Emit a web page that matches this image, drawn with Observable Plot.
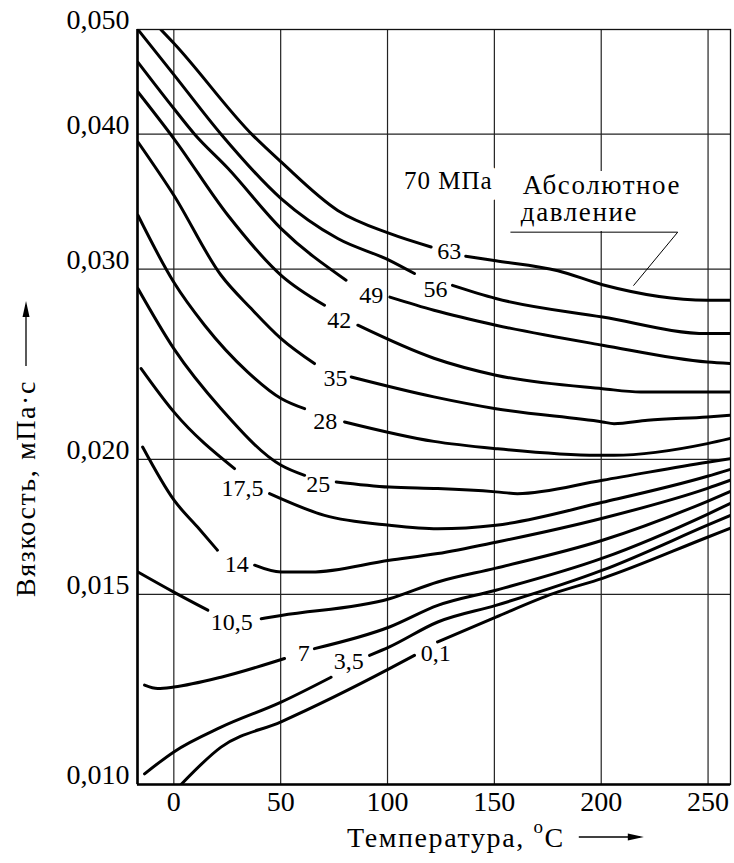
<!DOCTYPE html>
<html><head><meta charset="utf-8">
<script src="https://cdn.jsdelivr.net/npm/d3@7"></script>
<script src="https://cdn.jsdelivr.net/npm/@observablehq/plot@0.6"></script>
<style>
body{margin:0;background:#fff}
</style>
</head><body><div id="chart"></div>
<script>
// ---- data (temperature °C, viscosity mPa·s); null = break for label ----
const t63 = [-6.1, 0, 37.0, 50.2, 76.7, 100.9, 120.4, null, 136.6, 150.7, 179.7, 200.6, 249.7, 260.5];
const v63 = [0.0500, 0.04856, 0.0399, 0.03770, 0.0340, 0.03237, 0.03145, null, 0.03084, 0.03054, 0.0299, 0.02902, 0.02808, 0.02808];
const t56 = [-16.8, 0, 22.1, 50.2, 76.7, 100.9, 112.6, null, 130.4, 150.7, 200.6, 249.7, 260.5];
const v56 = [0.0500, 0.04542, 0.0400, 0.03487, 0.03202, 0.03057, 0.02972, null, 0.02898, 0.02818, 0.02709, 0.02615, 0.02615];
const t49 = [-16.8, 0, 9.7, 25.3, 50.2, 80.6, null, 101.1, 121.7, 150.7, 200.6, 249.7, 260.5];
const v49 = [0.04663, 0.04225, 0.0400, 0.0372, 0.03271, 0.02930, null, 0.02826, 0.02748, 0.02662, 0.02551, 0.02461, 0.02453];
const t42 = [-16.8, 0, 25.3, 50.2, 70.5, null, 86.1, 121.7, 150.7, 200.6, 218.5, 260.5];
const v42 = [0.04377, 0.03963, 0.03365, 0.02961, 0.02778, null, 0.02662, 0.02481, 0.02393, 0.02325, 0.02309, 0.02309];
const t35 = [-16.8, 0, 22.1, 36.2, 50.2, 65.8, null, 83.0, 121.7, 150.7, 200.6, 206, 221.7, 249.7, 260.5];
const v35 = [0.03934, 0.03512, 0.02961, 0.02758, 0.02587, 0.02453, null, 0.02384, 0.02285, 0.02228, 0.02166, 0.02158, 0.02174, 0.02189, 0.02197];
const t28 = [-16.8, 0, 14.4, 34.6, 50.2, 61.2, null, 79.9, 121.7, 150.7, 198.3, 206, 249.7, 260.5];
const v28 = [0.03365, 0.02917, 0.02662, 0.02409, 0.02277, 0.02228, null, 0.02166, 0.02078, 0.02046, 0.02017, 0.02017, 0.02068, 0.02091];
const t25 = [-16.8, 0, 22.1, 50.2, 61.2, null, 76.0, 100.9, 123.5, 150.7, 160.8, 200.6, 249.7, 260.5];
const v25 = [0.02878, 0.02532, 0.02228, 0.01975, 0.01933, null, 0.01906, 0.01885, 0.01879, 0.01866, 0.01859, 0.01913, 0.01988, 0.02003];
const t17 = [-15.3, 0, 28.4, null, 44.8, 70.5, 100.9, 123.5, 150.7, 200.6, 249.7, 260.5];
const v17 = [0.02427, 0.02213, 0.01961, null, 0.01859, 0.01775, 0.01738, 0.01725, 0.01738, 0.01825, 0.01929, 0.01958];
const t14 = [-14.6, 0.1, 11.1, 20.4, null, 37.8, 50.2, 64.2, 100.9, 123.5, 150.7, 200.6, 249.7, 260.5];
const v14 = [0.02053, 0.01833, 0.01731, 0.01648, null, 0.01596, 0.01573, 0.01573, 0.01613, 0.01636, 0.01676, 0.01764, 0.01880, 0.01913];
const t10 = [-16.8, 0, 15.9, null, 40.9, 50.2, 100.9, 123.5, 150.7, 200.6, 249.7, 260.5];
const v10 = [0.01573, 0.01507, 0.01450, null, 0.01424, 0.01434, 0.01486, 0.01540, 0.01586, 0.01683, 0.01829, 0.01868];
const t7 = [-13.7, -7.5, 0, 22.1, 51.8, null, 65.8, 100.9, 123.5, 150.7, 200.6, 249.7, 260.5];
const v7 = [0.01236, 0.01227, 0.01231, 0.01257, 0.01308, null, 0.01336, 0.01399, 0.01465, 0.01513, 0.01620, 0.01779, 0.01821];
const t3 = [-13.7, 0, 22.1, 50.2, 73.6, null, 91.6, 100.9, 123.5, 150.7, 200.6, 249.7, 260.5];
const v3 = [0.01023, 0.01072, 0.01130, 0.01192, 0.01257, null, 0.01317, 0.01341, 0.01414, 0.01465, 0.01579, 0.01738, 0.01775];
const t01 = [3.4, 22.1, 50.2, 100.9, 112.6, null, 123.4, 150.7, 177.8, 200.6, 249.7, 260.5];
const v01 = [0.0100, 0.01083, 0.01143, 0.01280, 0.01317, null, 0.01355, 0.01429, 0.01503, 0.01552, 0.01694, 0.01727];

const labelText = ["63","56","49","42","35","28","25","17,5","14","10,5","7","3,5","0,1"];
const labelT = [128.9, 122.4, 92.4, 77.4, 75.6, 70.9, 67.6, 32.1, 29.5, 27.1, 60.8, 81.9, 122.6];
const labelV = [0.03113, 0.02871, 0.02838, 0.02690, 0.02375, 0.02169, 0.01896, 0.01882, 0.01599, 0.01414, 0.01324, 0.01301, 0.01323];

const noteText = ["Абсолютное", "давление"];
const noteT = [163.3, 162.4];
const noteV = [0.03588, 0.03387];
const topText = ["70 МПа"];
const topT = [128.4];
const topV = [0.03618];
const leaderT = [157.7, 235.8, 215.2];
const leaderV = [0.03246, 0.03246, 0.02898];

const xTicks = [0, 50, 100, 150, 200, 250];
const xTickLabels = ["0", "50", "100", "150", "200", "250"];
const yTicks = [0.010, 0.015, 0.020, 0.030, 0.040, 0.050];
const yTickLabels = ["0,010", "0,015", "0,020", "0,030", "0,040", "0,050"];
const xDomain = [-17, 260.5];
const yDomain = [0.010, 0.050];
const xTitle = "Температура, ";
const xTitleSup = "o";
const xTitleUnit = "C";
const yTitle = "Вязкость, мПа·с";

// ---- build rows ----
const series = [[t63,v63],[t56,v56],[t49,v49],[t42,v42],[t35,v35],[t28,v28],[t25,v25],
                [t17,v17],[t14,v14],[t10,v10],[t7,v7],[t3,v3],[t01,v01]];
const rows = series.flatMap(([ts, vs], k) => ts.map((t, i) => ({p: labelText[k], T: t, v: vs[i]})));
const labels = labelText.map((s, i) => ({s, T: labelT[i], v: labelV[i]}));
const notes = noteText.map((s, i) => ({s, T: noteT[i], v: noteV[i]}));
const tops = topText.map((s, i) => ({s, T: topT[i], v: topV[i]}));
const leader = leaderT.map((t, i) => ({T: t, v: leaderV[i]}));

const FONT = "'Liberation Serif','Times New Roman',Times,serif";
const chart = Plot.plot({
  width: 734, height: 863,
  marginLeft: 137, marginRight: 4, marginTop: 29, marginBottom: 79,
  style: `font-family: ${FONT}; background: #fff; color: #000;`,
  x: {domain: xDomain},
  y: {type: "log", domain: yDomain},
  marks: [
    Plot.gridX(xTicks, {stroke: "#222", strokeOpacity: 1, strokeWidth: 1.2}),
    Plot.gridY(yTicks, {stroke: "#222", strokeOpacity: 1, strokeWidth: 1.2}),
    Plot.text(tops, {x: "T", y: "v", text: "s", fontSize: 25, fill: "#000", stroke: "#fff", strokeWidth: 22,
      paintOrder: "stroke", fontFamily: FONT}),
    Plot.text(notes, {x: "T", y: "v", text: "s", fontSize: 27, textAnchor: "start", fill: "#000", stroke: "#fff",
      strokeWidth: 20, paintOrder: "stroke", fontFamily: FONT}),
    Plot.line(rows, {x: "T", y: "v", z: "p", curve: "monotone-x", stroke: "#000", strokeWidth: 3, clip: true}),
    Plot.line(leader, {x: "T", y: "v", stroke: "#000", strokeWidth: 1}),
    Plot.text(labels, {x: "T", y: "v", text: "s", fontSize: 24, fill: "#000", fontFamily: FONT}),
    Plot.frame({stroke: "#111", strokeWidth: 1.3}),
    Plot.ruleX([xDomain[0]], {stroke: "#000", strokeWidth: 2.6}),
    Plot.ruleY([yDomain[0]], {stroke: "#000", strokeWidth: 2.6}),
    Plot.axisX(xTicks, {tickSize: 0, tickPadding: 7, fontSize: 28, label: null, fontFamily: FONT,
      tickFormat: d => xTickLabels[xTicks.indexOf(d)], fill: "#000"}),
    Plot.axisY(yTicks, {tickSize: 0, tickPadding: 8, fontSize: 28, label: null, dy: -9, fontFamily: FONT,
      tickFormat: d => yTickLabels[yTicks.indexOf(d)], fill: "#000"})
  ]
});
document.getElementById("chart").appendChild(chart);

const svg = d3.select(chart);
// widen the annotation lettering like the original
svg.selectAll("text").filter(function() { return noteText.includes(this.textContent); })
  .attr("letter-spacing", "1.6px");
svg.selectAll("text").filter(function() { return topText.includes(this.textContent); })
  .attr("letter-spacing", "1px");

// ---- axis titles with arrows ----
const xt = svg.append("text").attr("x", 347).attr("y", 847).attr("font-size", 28)
  .attr("font-family", FONT).attr("letter-spacing", "1.6px")
  .attr("text-anchor", "start").attr("fill", "#000");
xt.append("tspan").text(xTitle);
xt.append("tspan").attr("font-size", 19).attr("dy", -14).text(xTitleSup);
xt.append("tspan").attr("dy", 14).text(xTitleUnit);
const xEnd = 347 + xt.node().getComputedTextLength();
const ax0 = xEnd + 14, ax1 = ax0 + 65, ay = 837;
svg.append("line").attr("x1", ax0).attr("x2", ax1 - 4).attr("y1", ay).attr("y2", ay).attr("stroke", "#000").attr("stroke-width", 1.3);
svg.append("path").attr("d", `M${ax1 - 16},${ay - 3.5}L${ax1},${ay}L${ax1 - 16},${ay + 3.5}Z`).attr("fill", "#000");

const yt = svg.append("text").attr("transform", "translate(35,597) rotate(-90)").attr("font-size", 28)
  .attr("font-family", FONT).attr("letter-spacing", "1.6px")
  .attr("text-anchor", "start").attr("fill", "#000").text(yTitle);
const yEnd = 597 - yt.node().getComputedTextLength();
const by0 = yEnd - 14, by1 = by0 - 65, bx = 26;
svg.append("line").attr("x1", bx).attr("x2", bx).attr("y1", by0).attr("y2", by1 + 4).attr("stroke", "#000").attr("stroke-width", 1.3);
svg.append("path").attr("d", `M${bx - 3.5},${by1 + 16}L${bx},${by1}L${bx + 3.5},${by1 + 16}Z`).attr("fill", "#000");
</script>
</body></html>
